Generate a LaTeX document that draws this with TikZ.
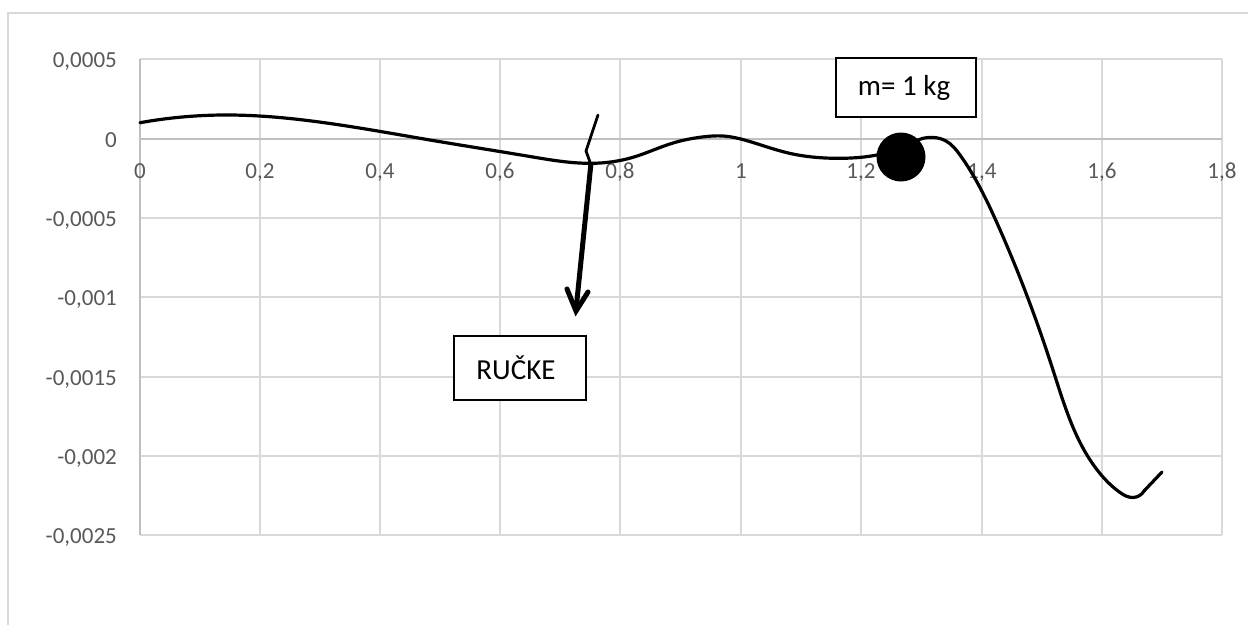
\documentclass[tikz,border=0pt]{standalone}
\usepackage{fontspec}
\setmainfont{Carlito}
\usetikzlibrary{arrows.meta,hobby}
\definecolor{gridc}{HTML}{D9D9D9}
\definecolor{axisc}{HTML}{BFBFBF}
\definecolor{labelc}{HTML}{595959}
\tikzset{
  gridline/.style={draw=gridc,line width=1.6pt},
  axisline/.style={draw=axisc,line width=1.6pt},
  ticklabel/.style={text=labelc,font=\fontsize{23}{26}\selectfont,inner sep=0pt},
  curveline/.style={draw=black,line width=3.2pt,line cap=round,line join=round},
  notebox/.style={draw=black,fill=white,line width=1.3pt,font=\fontsize{29}{32}\selectfont,text=black,inner sep=0pt,anchor=center},
}
\begin{document}
\begin{tikzpicture}[x=1pt,y=-1pt]
\useasboundingbox (0,0) rectangle (1248,625);
\fill[white] (0,0) rectangle (1248,625);
% outer frame
\draw[gridline] (8,625) -- (8,13) -- (1248,13);
% grid
\foreach \y in {59,218,297,377,456,535} \draw[gridline] (140,\y) -- (1222,\y);
\foreach \x in {260,380,500,620,741,861,982,1102,1222} \draw[gridline] (\x,59) -- (\x,535);
\draw[axisline] (140,59) -- (140,535);
\draw[axisline] (140,139) -- (1222,139);
% y labels
\foreach \y/\t in {59/{0,0005},139/0,218/{-0,0005},297/{-0,001},377/{-0,0015},456/{-0,002},535/{-0,0025}}
  \node[ticklabel,anchor=base east] at (117,\y+8.5) {\t};
% x labels
\foreach \x/\t in {140/0,260/{0,2},380/{0,4},500/{0,6},620/{0,8},741/1,861/{1,2},982/{1,4},1102/{1,6},1222/{1,8}}
  \node[ticklabel,anchor=base] at (\x,178) {\t};
% curve
\draw[curveline,use Hobby shortcut] (140,122.7) .. (223,115) .. (317,121.7) .. (430,140) .. (530,156.5) .. (592,163.3)
 .. (633,157.3) .. (673,143) .. (703,136.9) .. (723,136) .. (747,140.7) .. (787,152.7) .. (840,158.3) .. (905,146) .. (922,138.6) .. (934,137.5) .. (946,141) .. (960,155) .. (997,223) .. (1053,370) .. (1103,477) .. (1120,492.5) .. (1133,497.5) .. (1144,491);
\draw[curveline] (1144,491) -- (1162,472);
% pointer
\coordinate (ztop) at (598,115);
\coordinate (zmid) at (586,151);
\coordinate (zend) at (590,162);
\coordinate (ashaft) at (591,163);
\coordinate (abase) at (576.5,305);
\coordinate (atip) at (576,311);
\coordinate (aleft) at (567,289);
\coordinate (aright) at (588,292);
\draw[draw=black,line width=2.8pt,line cap=round,line join=round] (ztop) -- (zmid) -- (zend);
\draw[draw=black,line width=5pt,line cap=butt] (ashaft) -- (abase);
\draw[draw=black,line width=5pt,line cap=round,line join=miter] (aleft) -- (atip) -- (aright);
% mass
\fill[black] (901,157) circle (24.5);
% boxes
\node[notebox,minimum width=140pt,minimum height=59pt] (mbox) at (906,87.5) {m= 1 kg\kern 4pt};
\node[notebox,minimum width=132pt,minimum height=64pt] (rbox) at (520,368) {RUČKE\kern 8pt};
\end{tikzpicture}
\end{document}
